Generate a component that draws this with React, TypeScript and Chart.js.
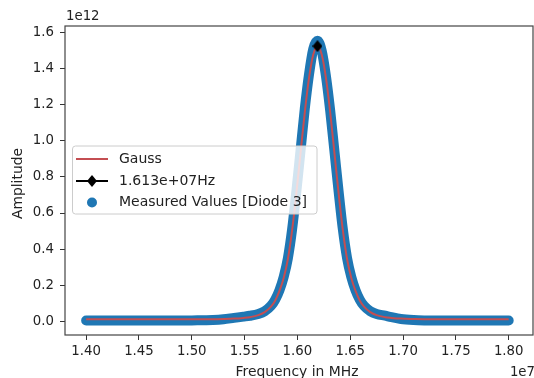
import React, { useEffect, useRef } from 'react';
import { Chart, registerables } from 'chart.js';

Chart.register(...registerables);

// Frequencies in units of 1e7 Hz (axis offset "1e7")
const frequencyE7 = [
  1.4, 1.42, 1.44, 1.46, 1.48, 1.5, 1.52, 1.53, 1.54, 1.549, 1.555, 1.563, 1.569,
  1.575, 1.579, 1.583, 1.587, 1.591, 1.595, 1.599, 1.603, 1.607, 1.611, 1.615,
  1.619, 1.623, 1.627, 1.631, 1.635, 1.639, 1.643, 1.647, 1.651, 1.655, 1.659,
  1.663, 1.669, 1.675, 1.683, 1.689, 1.698, 1.71, 1.72, 1.74, 1.76, 1.78, 1.8,
];

// Amplitudes in units of 1e12 (axis offset "1e12")
const gaussAmpE12 = [
  0.011, 0.011, 0.011, 0.011, 0.011, 0.011, 0.011, 0.012, 0.014, 0.018, 0.022, 0.033, 0.05,
  0.08, 0.115, 0.168, 0.24, 0.345, 0.505, 0.71, 0.935, 1.16, 1.35, 1.48,
  1.526, 1.48, 1.35, 1.16, 0.935, 0.71, 0.505, 0.345, 0.24, 0.168, 0.115,
  0.08, 0.05, 0.033, 0.022, 0.018, 0.014, 0.012, 0.011, 0.011, 0.011, 0.011, 0.011,
];

const measuredAmpE12 = [
  0.003, 0.003, 0.003, 0.003, 0.003, 0.004, 0.006, 0.01, 0.018, 0.025, 0.03, 0.04, 0.055,
  0.085, 0.12, 0.172, 0.245, 0.35, 0.51, 0.72, 0.95, 1.18, 1.37, 1.51,
  1.556, 1.5, 1.36, 1.17, 0.945, 0.72, 0.51, 0.35, 0.245, 0.172, 0.12,
  0.085, 0.055, 0.04, 0.03, 0.022, 0.012, 0.006, 0.004, 0.003, 0.003, 0.003, 0.003,
];

const peakFrequencyE7 = [1.619];
const peakAmpE12 = [1.526];

const xTickValues = [1.4, 1.45, 1.5, 1.55, 1.6, 1.65, 1.7, 1.75, 1.8];
const yTickValues = [0, 0.2, 0.4, 0.6, 0.8, 1.0, 1.2, 1.4, 1.6];

const seriesLabels = ['Gauss', '1.613e+07Hz', 'Measured Values [Diode 3]'];
const xAxisTitle = 'Frequency in MHz';
const yAxisTitle = 'Amplitude';
const xOffsetLabel = '1e7';
const yOffsetLabel = '1e12';

const FONT = '"DejaVu Sans", sans-serif';
const TEXT = '#222222';
const BLUE = '#1f77b4';
const RED = '#c44e52';

function makeDiamond(): HTMLCanvasElement {
  const c = document.createElement('canvas');
  c.width = 10;
  c.height = 12;
  const g = c.getContext('2d')!;
  g.fillStyle = '#000';
  g.beginPath();
  g.moveTo(5, 0);
  g.lineTo(10, 6);
  g.lineTo(5, 12);
  g.lineTo(0, 6);
  g.closePath();
  g.fill();
  return c;
}

export default function App() {
  const ref = useRef<HTMLCanvasElement>(null);

  useEffect(() => {
    document.body.style.margin = '0';
    const canvas = ref.current!;
    const diamond = makeDiamond();

    const overlay = {
      id: 'overlay',
      afterLayout(chart: any) {
        // keep the plot area's right edge at the canvas edge (matplotlib-style)
        const right = chart.width - 1;
        const area = chart.chartArea;
        area.right = right;
        area.width = right - area.left;
        const x = chart.scales.x;
        x.right = right;
        x.width = right - x.left;
        x.configure();
      },
      afterDatasetsDraw(chart: any) {
        const { ctx, chartArea: a } = chart;
        ctx.save();
        // spines
        ctx.strokeStyle = '#444';
        ctx.lineWidth = 1.2;
        ctx.strokeRect(a.left, a.top, a.right - a.left, a.bottom - a.top);

        // legend
        const lx = a.left + 7.5;
        const ly = 146;
        const lw = 244.5;
        const lh = 68;
        ctx.beginPath();
        (ctx as any).roundRect(lx, ly, lw, lh, 3);
        ctx.fillStyle = 'rgba(255,255,255,0.8)';
        ctx.fill();
        ctx.strokeStyle = '#cccccc';
        ctx.lineWidth = 1;
        ctx.stroke();

        const hx0 = lx + 3.5;
        const hx1 = lx + 35.5;
        const hc = (hx0 + hx1) / 2;
        const tx = lx + 46.5;
        const rows = [ly + 13, ly + 35, ly + 56.5];
        ctx.font = `14px ${FONT}`;
        ctx.fillStyle = TEXT;
        ctx.textBaseline = 'middle';
        ctx.textAlign = 'left';

        // Gauss
        ctx.strokeStyle = RED;
        ctx.lineWidth = 2;
        ctx.beginPath();
        ctx.moveTo(hx0, rows[0]);
        ctx.lineTo(hx1, rows[0]);
        ctx.stroke();
        ctx.fillText(seriesLabels[0], tx, rows[0]);

        // peak
        ctx.strokeStyle = '#000';
        ctx.beginPath();
        ctx.moveTo(hx0, rows[1]);
        ctx.lineTo(hx1, rows[1]);
        ctx.stroke();
        ctx.drawImage(diamond, hc - 5, rows[1] - 6);
        ctx.fillStyle = TEXT;
        ctx.fillText(seriesLabels[1], tx, rows[1]);

        // measured
        ctx.fillStyle = BLUE;
        ctx.beginPath();
        ctx.arc(hc, rows[2], 5, 0, Math.PI * 2);
        ctx.fill();
        ctx.fillStyle = TEXT;
        ctx.fillText(seriesLabels[2], tx, rows[2]);
        ctx.restore();
      },
      afterDraw(chart: any) {
        const { ctx, chartArea: a } = chart;
        ctx.save();
        ctx.font = `13.9px ${FONT}`;
        ctx.fillStyle = TEXT;
        ctx.textBaseline = 'middle';
        ctx.textAlign = 'center';
        ctx.fillText(xAxisTitle, (a.left + a.right) / 2 - 2, 372);
        ctx.font = `13.3px ${FONT}`;
        ctx.textAlign = 'left';
        ctx.fillText(yOffsetLabel, a.left + 1, 17);
        ctx.textAlign = 'right';
        ctx.fillText(xOffsetLabel, a.right + 2, 373);
        ctx.font = `13.9px ${FONT}`;
        ctx.translate(18, (a.top + a.bottom) / 2 + 3);
        ctx.rotate(-Math.PI / 2);
        ctx.textAlign = 'center';
        ctx.fillText(yAxisTitle, 0, 0);
        ctx.restore();
      },
    };

    const chart = new Chart(canvas, {
      type: 'line',
      data: {
        datasets: [
          {
            label: seriesLabels[0],
            data: frequencyE7.map((x, i) => ({ x, y: gaussAmpE12[i] })),
            borderColor: RED,
            borderWidth: 2,
            pointRadius: 0,
            cubicInterpolationMode: 'monotone',
            order: 1,
          },
          {
            label: seriesLabels[1],
            data: peakFrequencyE7.map((x, i) => ({ x, y: peakAmpE12[i] })),
            borderColor: '#000',
            borderWidth: 2,
            pointStyle: diamond as any,
            pointRadius: 6,
            showLine: false,
            order: 0,
          },
          {
            label: seriesLabels[2],
            data: frequencyE7.map((x, i) => ({ x, y: measuredAmpE12[i] })),
            borderColor: BLUE,
            backgroundColor: BLUE,
            borderWidth: 10,
            borderCapStyle: 'round',
            borderJoinStyle: 'round',
            pointRadius: 0,
            cubicInterpolationMode: 'monotone',
            order: 2,
          },
        ],
      } as any,
      options: {
        animation: false,
        responsive: false,
        devicePixelRatio: 1,
        events: [],
        layout: { padding: { top: 26, right: 1, left: 0, bottom: 0 } },
        plugins: { legend: { display: false }, tooltip: { enabled: false } },
        font: { family: FONT },
        scales: {
          x: {
            type: 'linear',
            min: 1.38,
            max: 1.823,
            afterFit: (s: any) => {
              s.height = 43;
              s.paddingLeft = 0;
              s.paddingRight = 0;
            },
            afterBuildTicks: (s: any) => {
              s.ticks = xTickValues.map((v) => ({ value: v }));
            },
            ticks: {
              callback: (v: any) => Number(v).toFixed(2),
              font: { size: 13.3, family: FONT },
              color: TEXT,
              padding: 4,
              maxRotation: 0,
              autoSkip: false,
            },
            grid: { drawOnChartArea: false, tickLength: 5, color: '#333' },
            border: { display: false },
          },
          y: {
            type: 'linear',
            min: -0.077,
            max: 1.638,
            afterFit: (s: any) => {
              s.width = 65;
              s.paddingTop = 0;
              s.paddingBottom = 0;
            },
            afterBuildTicks: (s: any) => {
              s.ticks = yTickValues.map((v) => ({ value: v }));
            },
            ticks: {
              callback: (v: any) => Number(v).toFixed(1),
              font: { size: 13.3, family: FONT },
              color: TEXT,
              padding: 6,
              autoSkip: false,
            },
            grid: { drawOnChartArea: false, tickLength: 5, color: '#333' },
            border: { display: false },
          },
        },
      } as any,
      plugins: [overlay],
    });

    return () => chart.destroy();
  }, []);

  return (
    <div style={{ position: 'fixed', left: 0, top: 0, width: 534, height: 378, background: '#fff' }}>
      <canvas ref={ref} width={534} height={378} style={{ width: 534, height: 378 }} />
    </div>
  );
}
